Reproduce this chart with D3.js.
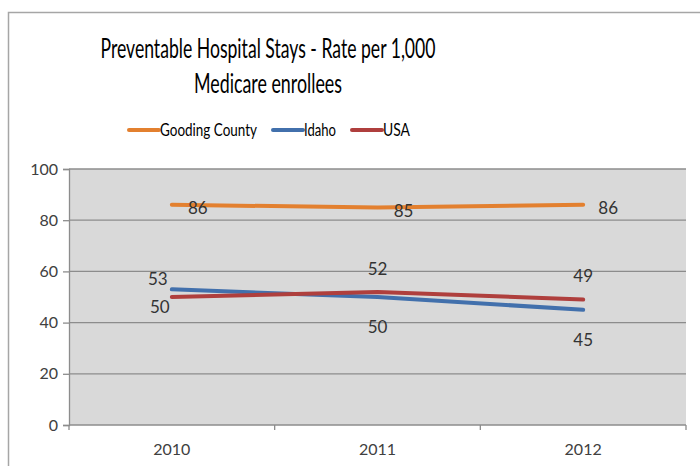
<!DOCTYPE html>
<html>
<head>
<meta charset="utf-8">
<script src="https://cdn.jsdelivr.net/npm/d3@7"></script>
<style>
  html, body { margin: 0; padding: 0; background: #fff; }
  svg { display: block; font-family: Lato, "Open Sans", sans-serif; }
</style>
</head>
<body>
<svg id="chart" width="700" height="466"></svg>
<script>
// Preventable hospital stays, rate per 1,000 Medicare enrollees
const years = ["2010", "2011", "2012"];
const goodingCounty = [86, 85, 86];
const idaho = [53, 50, 45];
const usa = [50, 52, 49];
const yTicks = [0, 20, 40, 60, 80, 100];

const series = [
  { name: "Gooding County", values: goodingCounty, color: "#E3802F" },
  { name: "Idaho", values: idaho, color: "#4270AC" },
  { name: "USA", values: usa, color: "#AF3F3D" }
];

// Label offsets (dx, dy) from each point
const labelOffsets = [
  [[26, 3], [26, 4], [25, 3]],
  [[-14, -10], [0, 30], [0, 30]],
  [[-12, 10], [0, -23], [0, -24]]
];

const svg = d3.select("#chart");

// outer chart frame
svg.append("rect")
  .attr("x", 8.5).attr("y", 12.5)
  .attr("width", 720).attr("height", 480)
  .attr("fill", "#fff")
  .attr("stroke", "#A6A6A6").attr("stroke-width", 1.5);

const plot = { left: 69, right: 686, top: 169, bottom: 425 };

const x = d3.scaleBand().domain(years).range([plot.left, plot.right]);
const y = d3.scaleLinear().domain([0, 100]).range([plot.bottom, plot.top]);

// plot background
svg.append("rect")
  .attr("x", plot.left).attr("y", plot.top)
  .attr("width", plot.right - plot.left).attr("height", plot.bottom - plot.top)
  .attr("fill", "#D9D9D9");

// horizontal gridlines
svg.append("g")
  .selectAll("line")
  .data(yTicks.filter(d => d > 0))
  .join("line")
  .attr("x1", plot.left).attr("x2", plot.right)
  .attr("y1", d => y(d)).attr("y2", d => y(d))
  .attr("stroke", "#8C8C8C").attr("stroke-width", 1.3);

// y axis
const yAxis = svg.append("g")
  .attr("transform", `translate(${plot.left},0)`)
  .call(d3.axisLeft(y).tickValues(yTicks).tickSize(6).tickPadding(5));
yAxis.select(".domain").attr("stroke", "#8C8C8C").attr("stroke-width", 1.3);
yAxis.selectAll(".tick line").attr("stroke", "#8C8C8C").attr("stroke-width", 1.3);
yAxis.selectAll(".tick text")
  .attr("font-size", 16).attr("fill", "#404040")
  .attr("font-family", "Lato, sans-serif");

// x axis: ticks between categories
const xAxis = svg.append("g")
  .attr("transform", `translate(0,${plot.bottom})`);
xAxis.append("line")
  .attr("x1", plot.left).attr("x2", plot.right)
  .attr("y1", 0).attr("y2", 0)
  .attr("stroke", "#8C8C8C").attr("stroke-width", 1.3);
const boundaries = years.map(d => x(d)).concat([x(years[years.length - 1]) + x.bandwidth()]);
xAxis.selectAll("line.tk")
  .data(boundaries)
  .join("line")
  .attr("class", "tk")
  .attr("x1", d => d).attr("x2", d => d)
  .attr("y1", 0).attr("y2", 5)
  .attr("stroke", "#8C8C8C").attr("stroke-width", 1.3);
xAxis.selectAll("text")
  .data(years)
  .join("text")
  .attr("x", d => x(d) + x.bandwidth() / 2)
  .attr("y", 24)
  .attr("dy", "0.35em")
  .attr("text-anchor", "middle")
  .attr("font-size", 16).attr("fill", "#404040")
  .text(d => d);

// series lines
const cx = d => x(d) + x.bandwidth() / 2;
const line = d3.line()
  .x((v, i) => cx(years[i]))
  .y(v => y(v));

svg.append("g")
  .selectAll("path")
  .data(series)
  .join("path")
  .attr("d", s => line(s.values))
  .attr("fill", "none")
  .attr("stroke", s => s.color)
  .attr("stroke-width", 4)
  .attr("stroke-linecap", "round")
  .attr("stroke-linejoin", "round");

// value labels
series.forEach((s, si) => {
  svg.append("g")
    .selectAll("text")
    .data(s.values)
    .join("text")
    .attr("x", (v, i) => cx(years[i]) + labelOffsets[si][i][0])
    .attr("y", (v, i) => y(v) + labelOffsets[si][i][1])
    .attr("dy", "0.35em")
    .attr("text-anchor", "middle")
    .attr("font-size", 17)
    .attr("fill", "#333")
    .text(v => v);
});

// title
const titleX = 268;
svg.append("text")
  .attr("x", titleX).attr("y", 58)
  .attr("text-anchor", "middle")
  .attr("font-size", 26).attr("fill", "#000")
  .attr("textLength", 335).attr("lengthAdjust", "spacingAndGlyphs")
  .text("Preventable Hospital Stays - Rate per 1,000");
svg.append("text")
  .attr("x", titleX).attr("y", 93)
  .attr("text-anchor", "middle")
  .attr("font-size", 26).attr("fill", "#000")
  .attr("textLength", 148).attr("lengthAdjust", "spacingAndGlyphs")
  .text("Medicare enrollees");

// legend
const legendItems = [
  { s: series[0], lx: 129, tw: 97 },
  { s: series[1], lx: 273, tw: 32 },
  { s: series[2], lx: 352, tw: 27 }
];
const legend = svg.append("g").attr("transform", "translate(0,130)");
legendItems.forEach(item => {
  legend.append("line")
    .attr("x1", item.lx).attr("x2", item.lx + 30)
    .attr("y1", 0).attr("y2", 0)
    .attr("stroke", item.s.color).attr("stroke-width", 4)
    .attr("stroke-linecap", "round");
  legend.append("text")
    .attr("x", item.lx + 31).attr("y", 0)
    .attr("dy", "0.35em")
    .attr("font-size", 18).attr("fill", "#000")
    .attr("textLength", item.tw).attr("lengthAdjust", "spacingAndGlyphs")
    .text(item.s.name);
});
</script>
</body>
</html>
